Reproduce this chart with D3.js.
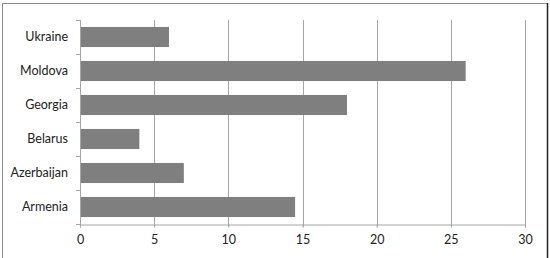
<!DOCTYPE html>
<html>
<head>
<meta charset="utf-8">
<script src="https://cdn.jsdelivr.net/npm/d3@7"></script>
<style>
  body { margin: 0; background: #fff; }
  svg text { font-family: Lato, "Open Sans", sans-serif; font-size: 12.5px; fill: #222; }
</style>
</head>
<body>
<svg id="chart"></svg>
<script>
// Data
const countries = ['Armenia', 'Azerbaijan', 'Belarus', 'Georgia', 'Moldova', 'Ukraine'];
const values = [14.5, 7, 4, 18, 26, 6];
const xTicks = [0, 5, 10, 15, 20, 25, 30];

const width = 550;
const height = 258;
const margin = { top: 20, right: 25, bottom: 34, left: 80 };

const svg = d3.select('#chart')
  .attr('width', width)
  .attr('height', height);

// Outer frame
svg.append('rect')
  .attr('x', 2.5).attr('y', 3.5)
  .attr('width', 545).attr('height', 260)
  .attr('fill', '#fff')
  .attr('stroke', '#8c8c8c');
svg.append('line')
  .attr('x1', 547.5).attr('x2', 547.5)
  .attr('y1', 3).attr('y2', height)
  .attr('stroke', '#222').attr('stroke-width', 1.5);

const x = d3.scaleLinear()
  .domain([0, 30])
  .range([margin.left, width - margin.right]);

const y = d3.scaleBand()
  .domain(countries.slice().reverse())
  .range([margin.top, height - margin.bottom])
  .paddingInner(0.41)
  .paddingOuter(0.205);

// Gridlines
svg.append('g')
  .selectAll('line')
  .data(xTicks.slice(1))
  .enter()
  .append('line')
  .attr('x1', d => Math.round(x(d)) + 0.5)
  .attr('x2', d => Math.round(x(d)) + 0.5)
  .attr('y1', margin.top)
  .attr('y2', height - margin.bottom + 3)
  .attr('stroke', '#a6a6a6');

// Bars
svg.append('g')
  .selectAll('rect')
  .data(countries)
  .enter()
  .append('rect')
  .attr('x', x(0))
  .attr('y', d => y(d))
  .attr('width', (d, i) => x(values[i]) - x(0))
  .attr('height', y.bandwidth())
  .attr('fill', '#7f7f7f');

// X axis
const xAxis = svg.append('g')
  .attr('transform', `translate(0,${height - margin.bottom + 0.5})`)
  .call(d3.axisBottom(x).tickValues(xTicks).tickSize(3).tickPadding(8));
xAxis.select('.domain').attr('stroke', '#a6a6a6');
xAxis.selectAll('.tick line').attr('stroke', '#a6a6a6');
xAxis.selectAll('text').attr('font-size', null).attr('font-family', null);

// Y axis
const bounds = d3.range(countries.length + 1).map(i => margin.top + i * (height - margin.top - margin.bottom) / countries.length);
svg.append('line')
  .attr('x1', x(0) + 0.5).attr('x2', x(0) + 0.5)
  .attr('y1', margin.top).attr('y2', height - margin.bottom + 3)
  .attr('stroke', '#a6a6a6');
svg.append('g')
  .selectAll('line')
  .data(bounds)
  .enter()
  .append('line')
  .attr('x1', x(0) - 4).attr('x2', x(0))
  .attr('y1', d => Math.round(d) + 0.5)
  .attr('y2', d => Math.round(d) + 0.5)
  .attr('stroke', '#a6a6a6');

svg.append('g')
  .selectAll('text')
  .data(countries)
  .enter()
  .append('text')
  .attr('x', x(0) - 12)
  .attr('y', d => y(d) + y.bandwidth() / 2)
  .attr('dy', '0.35em')
  .attr('text-anchor', 'end')
  .text(d => d);
</script>
</body>
</html>
